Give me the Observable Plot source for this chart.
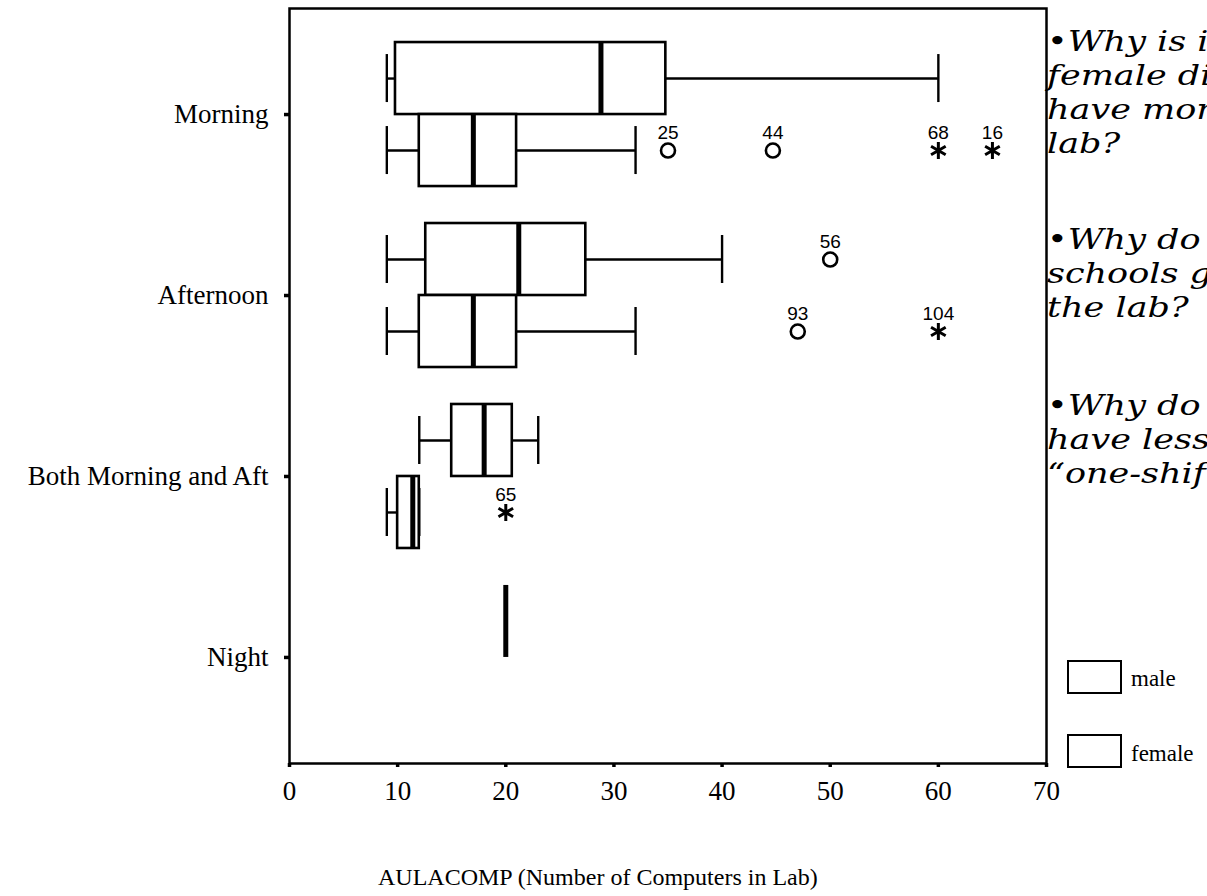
<!DOCTYPE html>
<html>
<head>
<meta charset="utf-8">
<script src="https://cdn.jsdelivr.net/npm/d3@7"></script>
<script src="https://cdn.jsdelivr.net/npm/@observablehq/plot@0.6"></script>
<style>
html, body { margin: 0; padding: 0; background: #fff; overflow: hidden; width: 1207px; height: 896px; }
#wrap { position: relative; width: 1207px; height: 896px; overflow: hidden; }
#chart { position: absolute; left: 0; top: 0; }
#chart svg [aria-label="x-axis tick"] path, #chart svg [aria-label="y-axis tick"] path { stroke-width: 3.5; }
.note { position: absolute; left: 1047px; font-family: "DejaVu Serif", serif; font-style: italic; font-size: 28px; line-height: 34px; white-space: nowrap; color: #000; transform: scaleX(1.25); transform-origin: left top; }
.legbox { position: absolute; left: 1067px; width: 51px; height: 30px; border: 2.5px solid #000; background: #fff; }
.legtxt { position: absolute; left: 1131px; font-family: "Liberation Serif", serif; font-size: 23px; line-height: 23px; color: #000; white-space: nowrap; }
#xtitle { position: absolute; left: 378px; top: 863px; font-family: "Liberation Serif", serif; font-size: 24px; line-height: 28px; white-space: nowrap; color: #000; }
</style>
</head>
<body>
<div id="wrap">
  <div id="chart"></div>
  <div class="note" style="top:25px">•Why is it that<br>female directors<br>have more<br>lab?</div>
  <div class="note" style="top:223px">•Why do more<br>schools go to<br>the lab?</div>
  <div class="note" style="top:389px">•Why do they<br>have less<br>“one-shift”</div>
  <div class="legbox" style="top:660px"></div>
  <div class="legtxt" style="top:667px">male</div>
  <div class="legbox" style="top:734px"></div>
  <div class="legtxt" style="top:742px">female</div>
  <div id="xtitle">AULACOMP (Number of Computers in Lab)</div>
</div>
<script>
// Categories and groups
const categories = ["Morning", "Afternoon", "Both Morning and Aft", "Night"];
const sexes = ["male", "female"];
const xTicks = [0, 10, 20, 30, 40, 50, 60, 70];

// Box summaries (one per category × sex)
const boxCategory = ["Morning", "Morning", "Afternoon", "Afternoon", "Both Morning and Aft", "Both Morning and Aft", "Night"];
const boxSex      = ["male", "female", "male", "female", "male", "female", "male"];
const whiskerLow  = [9,    9,  9,    9,  12,   9,    20];
const quart1      = [9.8,  12, 12.6, 12, 15,   10,   20];
const medianVal   = [28.8, 17, 21.2, 17, 18,   11.4, 20];
const quart3      = [34.8, 21, 27.4, 21, 20.6, 12,   20];
const whiskerHigh = [60,   32, 40,   32, 23,   12,   20];

// Outliers (o) and extremes (*), with case numbers
const outCategory = ["Morning", "Morning", "Morning", "Morning", "Afternoon", "Afternoon", "Afternoon", "Both Morning and Aft"];
const outSex      = ["female", "female", "female", "female", "male", "female", "female", "female"];
const outValue    = [35, 44.7, 60, 65, 50, 47, 60, 20];
const outCase     = ["25", "44", "68", "16", "56", "93", "104", "65"];
const outKind     = ["outlier", "outlier", "extreme", "extreme", "outlier", "outlier", "extreme", "extreme"];

const boxes = boxCategory.map((c, i) => ({
  category: c, sex: boxSex[i], lo: whiskerLow[i], q1: quart1[i], med: medianVal[i], q3: quart3[i], hi: whiskerHigh[i]
}));
const outliers = outCategory.map((c, i) => ({
  category: c, sex: outSex[i], value: outValue[i], label: outCase[i], kind: outKind[i]
}));

// Male boxes sit just above each category tick, female boxes just below.
const BOX = 72, CAP = 12;
function groupMarks(sex) {
  const up = sex === sexes[0];
  const b = boxes.filter(d => d.sex === sex);
  const o = outliers.filter(d => d.sex === sex);
  const full = up ? { insetTop: -BOX, insetBottom: 0 } : { insetTop: 0, insetBottom: -BOX };
  const cap = up ? { insetTop: -BOX + CAP, insetBottom: CAP } : { insetTop: CAP, insetBottom: -BOX + CAP };
  const mid = up ? -BOX / 2 : BOX / 2;
  return [
    Plot.ruleY(b, { y: "category", x1: "lo", x2: "q1", dy: mid, stroke: "#000", strokeWidth: 2.4 }),
    Plot.ruleY(b, { y: "category", x1: "q3", x2: "hi", dy: mid, stroke: "#000", strokeWidth: 2.4 }),
    Plot.tickX(b, { y: "category", x: "lo", ...cap, stroke: "#000", strokeWidth: 2.4 }),
    Plot.tickX(b, { y: "category", x: "hi", ...cap, stroke: "#000", strokeWidth: 2.4 }),
    Plot.barX(b, { y: "category", x1: "q1", x2: "q3", ...full, fill: "#fff", stroke: "#000", strokeWidth: 2.6 }),
    Plot.tickX(b, { y: "category", x: "med", ...full, stroke: "#000", strokeWidth: 5 }),
    Plot.dot(o.filter(d => d.kind === "outlier"), { y: "category", x: "value", dy: mid, r: 7, stroke: "#000", strokeWidth: 2.6, fill: "none" }),
    Plot.dot(o.filter(d => d.kind === "extreme"), { y: "category", x: "value", dy: mid, symbol: "asterisk", r: 8, stroke: "#000", strokeWidth: 3 }),
    Plot.text(o, { y: "category", x: "value", text: "label", dy: mid - 18, fontFamily: "'Liberation Sans', Arial, sans-serif", fontSize: 19, fill: "#000" })
  ];
}

const chart = Plot.plot({
  width: 1207,
  height: 896,
  marginTop: 8,
  marginLeft: 289,
  marginRight: 161,
  marginBottom: 133,
  style: { fontFamily: "'Liberation Serif', serif", fontSize: "27px", color: "#000", background: "transparent" },
  x: { domain: [0, 70], ticks: xTicks, tickSize: 4, tickPadding: 13, label: null },
  // band scale with zero-width bands: one tick per category, boxes placed around it
  y: { domain: categories, paddingInner: 1, paddingOuter: 0.586, round: false, tickSize: 5, tickPadding: 16, label: null },
  marks: [
    ...groupMarks("male"),
    ...groupMarks("female"),
    Plot.frame({ stroke: "#000", strokeWidth: 2.5 })
  ]
});

document.getElementById("chart").appendChild(chart);
</script>
</body>
</html>
